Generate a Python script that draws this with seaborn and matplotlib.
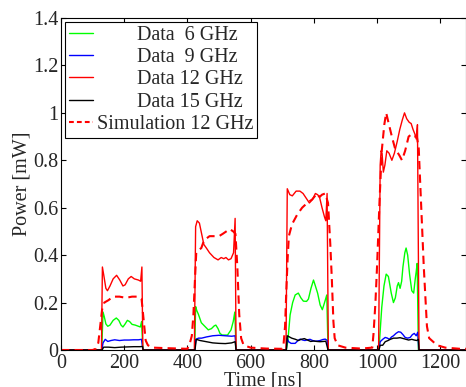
import numpy as np
import pandas as pd
import matplotlib
matplotlib.use("Agg")
import matplotlib.pyplot as plt
import seaborn as sns

# ---------------- data ----------------
t_6 = [0, 129, 133, 137, 142, 148, 155, 165, 175, 183, 190, 196, 203, 210, 217, 225, 235, 245, 251, 255, 259,
       423, 426, 430, 435, 444, 455, 466, 476, 485, 490, 497, 503, 510, 527, 538, 545, 550, 554,
       713, 718, 725, 733, 741, 751, 759, 767, 777, 783, 791, 799, 805, 812, 820, 827, 834, 841, 845,
       1006, 1010, 1015, 1022, 1029, 1036, 1045, 1052, 1058, 1064, 1068, 1073, 1078, 1082, 1088, 1092, 1097,
       1103, 1110, 1116, 1121, 1124, 1127, 1131, 1300]
p_6 = [0, 0, 0.16, 0.14, 0.11, 0.10, 0.105, 0.125, 0.135, 0.125, 0.105, 0.097, 0.11, 0.125, 0.12, 0.108, 0.105, 0.10, 0.097, 0.12, 0,
       0, 0.183, 0.165, 0.15, 0.115, 0.10, 0.085, 0.09, 0.102, 0.105, 0.09, 0.07, 0.063, 0.063, 0.085, 0.12, 0.16, 0,
       0, 0.04, 0.148, 0.20, 0.232, 0.24, 0.22, 0.206, 0.205, 0.215, 0.26, 0.295, 0.27, 0.24, 0.19, 0.17, 0.20, 0.232, 0,
       0, 0.08, 0.18, 0.27, 0.32, 0.31, 0.24, 0.20, 0.22, 0.27, 0.284, 0.26, 0.29, 0.35, 0.41, 0.43, 0.40,
       0.32, 0.25, 0.24, 0.30, 0.33, 0.365, 0, 0]

t_9 = [0, 129, 133, 140, 148, 158, 170, 185, 200, 215, 230, 245, 255, 259,
       423, 427, 435, 445, 460, 480, 500, 520, 540, 551, 554,
       713, 715, 720, 728, 741, 750, 757, 765, 772, 780, 788, 796, 804, 812, 820, 828, 836, 843, 845,
       1006, 1010, 1018, 1026, 1033, 1039, 1046, 1052, 1060, 1068, 1075, 1082, 1089, 1097, 1105, 1112, 1118,
       1124, 1129, 1132, 1300]
p_9 = [0, 0, 0.03, 0.045, 0.036, 0.04, 0.043, 0.04, 0.042, 0.042, 0.043, 0.043, 0.045, 0,
       0, 0.045, 0.05, 0.05, 0.055, 0.06, 0.062, 0.06, 0.058, 0.06, 0,
       0, 0.052, 0.035, 0.028, 0.028, 0.04, 0.046, 0.042, 0.04, 0.043, 0.045, 0.04, 0.037, 0.038, 0.04, 0.044, 0.046, 0.04, 0,
       0, 0.035, 0.045, 0.053, 0.05, 0.045, 0.055, 0.06, 0.07, 0.077, 0.075, 0.065, 0.053, 0.05, 0.053, 0.065, 0.07,
       0.06, 0.075, 0, 0]

t_12 = [0, 128, 131, 136, 142, 147, 155, 165, 176, 186, 196, 203, 213, 222, 232, 245, 252, 256, 259,
        422, 426, 431, 438, 445, 452, 460, 470, 484, 497, 507, 515, 522, 530, 538, 546, 551, 554,
        712, 716, 724, 732, 744, 756, 766, 776, 786, 796, 805, 812, 818, 826, 834, 838, 842, 846,
        1005, 1010, 1013, 1016, 1020, 1025, 1031, 1038, 1047, 1055, 1064, 1072, 1080, 1087, 1094, 1102, 1108,
        1114, 1120, 1124, 1128, 1133, 1300]
p_12 = [0, 0, 0.35, 0.31, 0.26, 0.25, 0.27, 0.30, 0.315, 0.295, 0.27, 0.275, 0.30, 0.31, 0.30, 0.295, 0.29, 0.35, 0,
        0, 0.52, 0.545, 0.535, 0.49, 0.445, 0.43, 0.41, 0.39, 0.38, 0.39, 0.385, 0.39, 0.38, 0.385, 0.41, 0.555, 0,
        0, 0.68, 0.655, 0.65, 0.67, 0.67, 0.66, 0.64, 0.62, 0.635, 0.66, 0.655, 0.645, 0.60, 0.56, 0.545, 0.66, 0,
        0, 0.78, 0.84, 0.83, 0.75, 0.78, 0.84, 0.83, 0.80, 0.83, 0.88, 0.93, 0.97, 1.0, 0.975, 0.96, 0.955,
        0.93, 0.91, 0.89, 0.95, 0, 0]

t_15 = [0, 130, 135, 150, 170, 190, 210, 230, 250, 258, 260,
        424, 428, 440, 460, 480, 500, 520, 540, 551, 554,
        713, 716, 730, 742, 751, 760, 770, 780, 790, 800, 810, 820, 830, 838, 845,
        1006, 1010, 1018, 1026, 1035, 1042, 1052, 1063, 1073, 1084, 1092, 1100, 1110, 1118, 1126, 1131, 1133, 1300]
p_15 = [0, 0, 0.012, 0.012, 0.01, 0.012, 0.013, 0.014, 0.014, 0.015, 0,
        0, 0.045, 0.04, 0.035, 0.03, 0.028, 0.027, 0.03, 0.035, 0,
        0, 0.06, 0.05, 0.045, 0.04, 0.045, 0.048, 0.042, 0.036, 0.038, 0.036, 0.035, 0.036, 0.037, 0,
        0, 0.02, 0.02, 0.035, 0.04, 0.045, 0.05, 0.05, 0.052, 0.048, 0.045, 0.042, 0.045, 0.042, 0.04, 0.045, 0, 0]

t_sim = [0, 100, 110, 118, 124, 130, 137, 150, 165, 185, 205, 225, 245, 255, 262, 268, 275, 290, 330, 400,
         408, 414, 419, 424, 428, 435, 444, 452, 460, 470, 485, 500, 512, 523, 534, 545, 552, 558, 564, 570, 578,
         600, 650, 700, 704, 709, 713, 717, 721, 731, 747, 763, 779, 795, 810, 818, 826, 836, 845, 852, 857, 862,
         866, 875, 900, 950, 985, 989, 995, 1000, 1008, 1015, 1023, 1029, 1037, 1047, 1057, 1071, 1079, 1089,
         1100, 1110, 1118, 1126, 1132, 1140, 1148, 1158, 1165, 1190, 1216, 1263, 1300]
p_sim = [0, 0, 0.005, 0.03, 0.10, 0.17, 0.20, 0.21, 0.225, 0.225, 0.22, 0.225, 0.225, 0.215, 0.12, 0.04, 0.02, 0.01, 0.008, 0.005,
         0.03, 0.06, 0.15, 0.30, 0.41, 0.42, 0.43, 0.46, 0.47, 0.48, 0.48, 0.48, 0.49, 0.50, 0.51, 0.50, 0.49, 0.35, 0.15, 0.05, 0.02,
         0.01, 0.006, 0.005, 0.02, 0.10, 0.25, 0.38, 0.48, 0.53, 0.57, 0.60, 0.62, 0.635, 0.66, 0.645, 0.655, 0.66, 0.62, 0.45, 0.30, 0.12,
         0.05, 0.02, 0.01, 0.006, 0.01, 0.07, 0.20, 0.35, 0.63, 0.84, 0.95, 1.0, 0.955, 0.90, 0.85, 0.82, 0.80, 0.84,
         0.90, 0.91, 0.90, 0.90, 0.85, 0.60, 0.35, 0.10, 0.05, 0.02, 0.01, 0.005, 0.005]

labels = ["        Data  6 GHz", "        Data  9 GHz", "        Data 12 GHz", "        Data 15 GHz",
          "Simulation 12 GHz"]
x_ticks = [0, 200, 400, 600, 800, 1000, 1200]
y_ticks = [0, 0.2, 0.4, 0.6, 0.8, 1.0, 1.2, 1.4]
y_tick_labels = ["0", "0.2", "0.4", "0.6", "0.8", "1", "1.2", "1.4"]

# ---------------- style ----------------
sns.set_theme(style="white")
plt.rcParams["font.family"] = ["Liberation Serif", "DejaVu Serif"]
plt.rcParams["xtick.direction"] = "in"
plt.rcParams["ytick.direction"] = "in"

FS = 14.5

fig = plt.figure(figsize=(4.66, 3.87), dpi=100)
ax = fig.add_axes([61 / 466, 1 - 350 / 387, 404.5 / 466, 332 / 387])

series = [(t_6, p_6, "#00ff00", "-", 1.0),
          (t_9, p_9, "#0000ff", "-", 1.0),
          (t_12, p_12, "#ff0000", "-", 1.0),
          (t_15, p_15, "#000000", "-", 1.0),
          (t_sim, p_sim, "#ff0000", "--", 1.5)]

for (t, p, c, ls, lw), lab in zip(series, labels):
    df = pd.DataFrame({"t": t, "p": p})
    sns.lineplot(data=df, x="t", y="p", ax=ax, color=c, linestyle=ls, linewidth=lw,
                 sort=False, estimator=None, label=lab)

ax.set_xlim(0, 1280)
ax.set_ylim(0, 1.4)
ax.set_xticks(x_ticks)
ax.set_yticks(y_ticks)
ax.set_yticklabels(y_tick_labels)
ax.tick_params(axis="both", which="both", labelsize=FS, length=3.5, width=0.8,
               top=True, right=True, bottom=True, left=True, color="black", pad=2)
ax.tick_params(axis="x", pad=3)
for s in ax.spines.values():
    s.set_color("black")
    s.set_linewidth(0.8)
ax.set_xlabel("Time [ns]", fontsize=FS, labelpad=-1)
ax.set_ylabel("Power [mW]", fontsize=FS, labelpad=1)

for d in [l for l in ax.get_lines() if l.get_linestyle() == "--"]:
    d.set_dashes([4, 2.5])

leg = ax.legend(loc="upper left", fontsize=FS, frameon=True, fancybox=False,
                edgecolor="black", framealpha=1, borderaxespad=0.2, borderpad=0.18,
                labelspacing=0.16, handlelength=1.2, handletextpad=0.2)
leg.get_frame().set_linewidth(0.8)
for h in leg.get_lines():
    if h.get_linestyle() == "--":
        h.set_dashes([2.3, 1.5])

fig.savefig("out.png", dpi=100)
